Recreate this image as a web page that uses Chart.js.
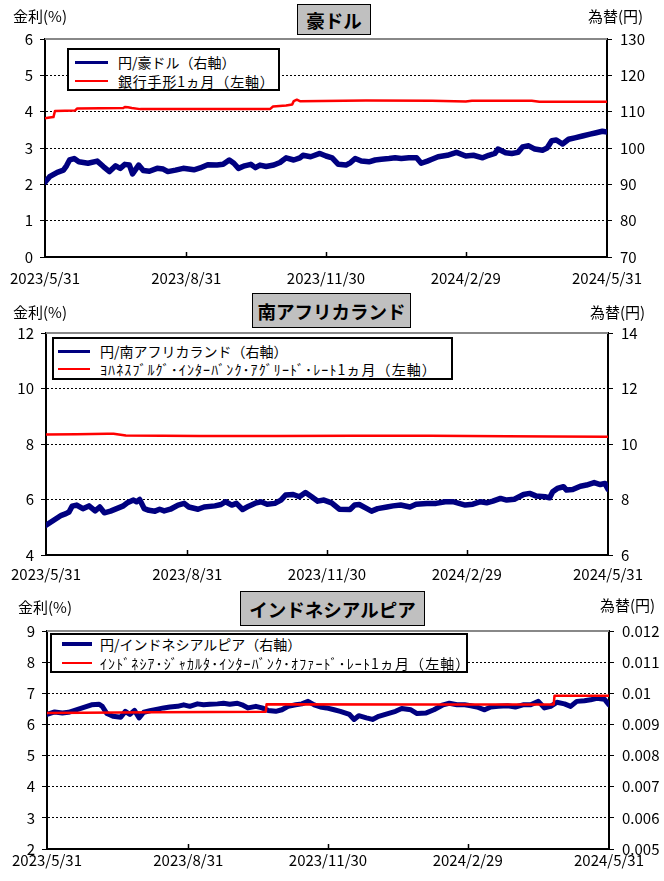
<!DOCTYPE html>
<html>
<head>
<meta charset="utf-8">
<script src="https://cdn.jsdelivr.net/npm/chart.js@4/dist/chart.umd.min.js"></script>
<style>
    body { margin: 0; background: #fff; }
    #page { position: relative; width: 664px; height: 881px; font-family: "Noto Sans CJK JP", sans-serif; color: #000; }
    canvas { position: absolute; left: 0; }
    .title { position: absolute; background: #c0c0c0; border: 1px solid #000; font-weight: bold; font-size: 18.5px;
             display: flex; align-items: center; justify-content: center; box-sizing: border-box; }
    .axis-label { position: absolute; font-size: 15px; line-height: 1; white-space: nowrap; }
    .legend { position: absolute; background: #fff; border: 2px solid #000; box-sizing: border-box; }
    .legend .row { position: absolute; left: 0; right: 0; height: 18px; }
    .legend .mark { position: absolute; top: 50%; }
    .legend .txt { position: absolute; top: 0; line-height: 18px; font-size: 14px; white-space: nowrap; }
    .wide { letter-spacing: 1.1px; }
</style>
</head>
<body>
<div id="page">
    <canvas id="c1" width="664" height="290" style="top:0"></canvas>
    <canvas id="c2" width="664" height="300" style="top:290px"></canvas>
    <canvas id="c3" width="664" height="291" style="top:590px"></canvas>

    <div class="title" style="left:297px;top:4px;width:74px;height:31px">豪ドル</div>
    <div class="title" style="left:252px;top:293px;width:159px;height:35px">南アフリカランド</div>
    <div class="title" style="left:240px;top:591px;width:185px;height:35px">インドネシアルピア</div>

    <div class="axis-label" style="left:13px;top:8px">金利(%)</div>
    <div class="axis-label" style="left:588px;top:8px">為替(円)</div>
    <div class="axis-label" style="left:13px;top:304px">金利(%)</div>
    <div class="axis-label" style="left:590px;top:304px">為替(円)</div>
    <div class="axis-label" style="left:18px;top:599px">金利(%)</div>
    <div class="axis-label" style="left:600px;top:597px">為替(円)</div>

    <div class="legend" style="left:67px;top:48px;width:213px;height:43px">
        <div class="row" style="top:3px"><div class="mark" style="left:6px;width:33px;height:3px;margin-top:-1.5px;background:#000080"></div><div class="txt" style="left:49px">円/豪ドル（右軸）</div></div>
        <div class="row" style="top:22px"><div class="mark" style="left:6px;width:33px;height:2px;margin-top:-1px;background:#ff0000"></div><div class="txt" style="left:49px;letter-spacing:0.8px">銀行手形1ヵ月（左軸）</div></div>
    </div>
    <div class="legend" style="left:52px;top:337px;width:401px;height:43px">
        <div class="row" style="top:3px"><div class="mark" style="left:4px;width:32px;height:3px;margin-top:-1.5px;background:#000080"></div><div class="txt" style="left:46px">円/南アフリカランド（右軸）</div></div>
        <div class="row" style="top:21px"><div class="mark" style="left:4px;width:32px;height:2px;margin-top:-1px;background:#ff0000"></div><div class="txt wide" style="left:46px">ﾖﾊﾈｽﾌﾞﾙｸﾞ･ｲﾝﾀｰﾊﾞﾝｸ･ｱｸﾞﾘｰﾄﾞ･ﾚｰﾄ1ヵ月（左軸）</div></div>
    </div>
    <div class="legend" style="left:50px;top:633px;width:418px;height:40px">
        <div class="row" style="top:0px"><div class="mark" style="left:10px;width:30px;height:4px;margin-top:-2px;background:#000080"></div><div class="txt" style="left:48px">円/インドネシアルピア（右軸）</div></div>
        <div class="row" style="top:19px"><div class="mark" style="left:10px;width:30px;height:2px;margin-top:-1px;background:#ff0000"></div><div class="txt wide" style="left:48px">ｲﾝﾄﾞﾈｼｱ･ｼﾞｬｶﾙﾀ･ｲﾝﾀｰﾊﾞﾝｸ･ｵﾌｧｰﾄﾞ･ﾚｰﾄ1ヵ月（左軸）</div></div>
    </div>
</div>

<script>
// x軸: 2023/5/31 からの経過日数
const xTickDays = [0, 92, 183, 274, 366];
const xTickLabels = ['2023/5/31', '2023/8/31', '2023/11/30', '2024/2/29', '2024/5/31'];

// 豪ドル
const audDays = [0, 3, 8, 12, 14, 16, 19, 22, 25, 28, 34, 38, 42, 46, 49, 52, 55, 57, 61, 64, 68, 73, 77, 80, 85, 90, 97, 101, 106, 112, 116, 120, 123, 126, 130, 134, 137, 140, 144, 149, 153, 157, 162, 166, 168, 173, 179, 183, 187, 191, 196, 199, 202, 206, 211, 215, 219, 224, 228, 232, 237, 242, 245, 249, 252, 256, 262, 268, 274, 279, 285, 289, 293, 295, 300, 304, 308, 311, 315, 319, 324, 327, 330, 333, 337, 341, 345, 350, 355, 359, 363, 366];
const audRate = [90.6, 92.1, 93.3, 93.9, 95.1, 96.7, 97.1, 96.2, 96.0, 95.8, 96.4, 94.9, 93.5, 95.1, 94.4, 95.5, 95.3, 92.9, 95.3, 93.8, 93.6, 94.4, 94.2, 93.5, 93.9, 94.4, 94.0, 94.5, 95.4, 95.3, 95.5, 96.7, 95.8, 94.4, 95.1, 95.5, 94.6, 95.3, 94.9, 95.3, 96.0, 97.3, 96.7, 97.3, 98.0, 97.6, 98.5, 97.8, 97.3, 95.5, 95.3, 96.0, 97.1, 96.4, 96.2, 96.7, 96.9, 97.1, 97.3, 97.1, 97.3, 97.3, 95.8, 96.4, 96.9, 97.6, 98.0, 98.8, 97.8, 98.0, 97.3, 98.0, 98.5, 99.7, 98.7, 98.5, 98.8, 100.3, 100.6, 99.7, 99.4, 100.0, 102.0, 102.2, 101.1, 102.4, 102.8, 103.3, 103.8, 104.2, 104.6, 104.4];
const bbswDays = [0, 3, 5.5, 6.5, 19.5, 21, 51, 52, 54, 56.5, 62, 146.5, 148.5, 157, 161, 162, 164, 166, 209, 252, 274, 278, 317, 322, 366];
const bbswRate = [3.82, 3.84, 3.85, 4.02, 4.03, 4.09, 4.10, 4.13, 4.12, 4.10, 4.07, 4.07, 4.14, 4.17, 4.20, 4.29, 4.33, 4.29, 4.31, 4.30, 4.28, 4.30, 4.30, 4.27, 4.27];
const audLeftTicks = [0, 1, 2, 3, 4, 5, 6];
const audRightTicks = [70, 80, 90, 100, 110, 120, 130];

// 南アフリカランド
const zarDays = [0, 5, 10, 13, 15, 17, 20, 24, 28, 32, 35, 38, 42, 46, 50, 53, 57, 59, 61, 64, 67, 71, 74, 77, 81, 86, 90, 93, 99, 103, 110, 114, 117, 121, 124, 128, 132, 137, 140, 144, 149, 153, 156, 161, 165, 169, 173, 177, 181, 186, 191, 198, 201, 204, 209, 212, 216, 222, 226, 231, 237, 241, 248, 254, 260, 265, 273, 278, 283, 287, 291, 296, 300, 305, 311, 315, 319, 325, 328, 330, 333, 337, 339, 343, 348, 352, 357, 361, 364, 366];
const zarRate = [7.07, 7.25, 7.43, 7.49, 7.55, 7.76, 7.80, 7.67, 7.77, 7.59, 7.73, 7.52, 7.58, 7.67, 7.76, 7.88, 7.98, 7.92, 8.00, 7.67, 7.61, 7.58, 7.65, 7.59, 7.65, 7.80, 7.86, 7.73, 7.65, 7.73, 7.77, 7.82, 7.92, 7.80, 7.86, 7.64, 7.76, 7.88, 7.92, 7.83, 7.86, 7.98, 8.16, 8.18, 8.10, 8.25, 8.10, 7.94, 7.98, 7.88, 7.65, 7.64, 7.80, 7.82, 7.67, 7.58, 7.67, 7.73, 7.77, 7.80, 7.73, 7.83, 7.86, 7.86, 7.92, 7.92, 7.80, 7.83, 7.92, 7.88, 7.94, 8.04, 7.98, 8.01, 8.18, 8.22, 8.13, 8.10, 8.06, 8.28, 8.40, 8.46, 8.34, 8.36, 8.48, 8.52, 8.61, 8.54, 8.58, 8.37];
const jibarDays = [0, 20, 40, 44, 52, 100, 150, 200, 250, 300, 330, 366];
const jibarRate = [8.34, 8.35, 8.37, 8.37, 8.31, 8.29, 8.29, 8.30, 8.30, 8.28, 8.27, 8.26];
const zarLeftTicks = [4, 6, 8, 10, 12];
const zarRightTicks = [6, 8, 10, 12, 14];

// インドネシアルピア
const idrDays = [0, 5, 10, 14, 18, 23, 26, 29, 34, 36, 39, 43, 48, 51, 54, 57, 60, 63, 67, 72, 76, 80, 85, 89, 93, 98, 102, 106, 111, 115, 119, 124, 127, 131, 136, 140, 144, 149, 153, 157, 162, 166, 170, 174, 178, 182, 187, 191, 197, 200, 203, 208, 212, 216, 222, 227, 231, 237, 241, 247, 252, 258, 262, 267, 272, 276, 280, 285, 289, 294, 300, 305, 310, 315, 320, 324, 328, 332, 337, 341, 345, 350, 354, 358, 363, 366];
const idrRate = [0.00932, 0.00940, 0.00937, 0.00939, 0.00945, 0.00953, 0.00958, 0.00963, 0.00965, 0.00958, 0.00935, 0.00926, 0.00923, 0.00942, 0.00932, 0.00945, 0.00921, 0.00939, 0.00944, 0.00949, 0.00953, 0.00956, 0.00958, 0.00963, 0.00958, 0.00966, 0.00963, 0.00965, 0.00966, 0.00968, 0.00965, 0.00968, 0.00963, 0.00953, 0.00958, 0.00953, 0.00945, 0.00942, 0.00947, 0.00958, 0.00963, 0.00966, 0.00974, 0.00963, 0.00956, 0.00953, 0.00947, 0.00942, 0.00932, 0.00916, 0.00928, 0.00921, 0.00916, 0.00926, 0.00935, 0.00942, 0.00951, 0.00947, 0.00935, 0.00937, 0.00947, 0.00963, 0.00968, 0.00963, 0.00963, 0.00960, 0.00956, 0.00947, 0.00956, 0.00958, 0.00960, 0.00956, 0.00963, 0.00963, 0.00974, 0.00953, 0.00958, 0.00971, 0.00966, 0.00958, 0.00974, 0.00976, 0.00979, 0.00984, 0.00981, 0.00963];
const jiborDays = [0, 70, 142.5, 143, 250, 330, 330.5, 366];
const jiborRate = [6.37, 6.39, 6.41, 6.65, 6.64, 6.64, 6.92, 6.92];
const idrLeftTicks = [2, 3, 4, 5, 6, 7, 8, 9];
const idrRightTicks = [0.005, 0.006, 0.007, 0.008, 0.009, 0.01, 0.011, 0.012];

const tickFont = { family: '"Noto Sans CJK JP", sans-serif', size: 15 };

function toPoints(days, values) {
    return days.map((d, i) => ({ x: d, y: values[i] }));
}

// 枠線上端とx軸の内向き目盛
const framePlugin = {
    id: 'frame',
    afterDraw(chart) {
        const { ctx, chartArea: a, scales } = chart;
        ctx.save();
        ctx.strokeStyle = '#888';
        ctx.lineWidth = 2;
        ctx.beginPath();
        ctx.moveTo(a.left, a.top);
        ctx.lineTo(a.right, a.top);
        ctx.stroke();
        ctx.strokeStyle = '#000';
        ctx.lineWidth = 1.5;
        xTickDays.slice(1, -1).forEach(d => {
            const px = Math.round(scales.x.getPixelForValue(d)) + 0.5;
            ctx.beginPath();
            ctx.moveTo(px, a.bottom);
            ctx.lineTo(px, a.bottom - 5);
            ctx.stroke();
        });
        ctx.restore();
    }
};

function createChart(id, opt) {
    const canvas = document.getElementById(id);
    const W = canvas.width, H = canvas.height;
    const leftTicks = opt.leftTicks, rightTicks = opt.rightTicks;
    const edge = v => v === leftTicks[0] || v === leftTicks[leftTicks.length - 1];
    return new Chart(canvas.getContext('2d'), {
        type: 'line',
        data: {
            datasets: [
                {
                    label: 'rate',
                    data: toPoints(opt.rateDays, opt.rateValues),
                    borderColor: '#ff0000',
                    borderWidth: 2.5,
                    yAxisID: 'y',
                    order: 0
                },
                {
                    label: 'fx',
                    data: toPoints(opt.fxDays, opt.fxValues),
                    borderColor: '#000080',
                    borderWidth: opt.fxWidth,
                    yAxisID: 'y1',
                    order: 1
                }
            ]
        },
        options: {
            responsive: false,
            animation: false,
            devicePixelRatio: 1,
            elements: {
                point: { radius: 0 },
                line: { tension: 0, borderJoinStyle: 'round', borderCapStyle: 'round' }
            },
            layout: { padding: { top: opt.top, left: 0, right: 0, bottom: 0 } },
            plugins: { legend: { display: false }, tooltip: { enabled: false } },
            scales: {
                x: {
                    type: 'linear',
                    min: 0,
                    max: 366,
                    grid: { display: false },
                    border: { display: true, color: '#000', width: 2 },
                    afterBuildTicks: s => { s.ticks = xTickDays.map(v => ({ value: v })); },
                    afterFit: s => { s.height = H - opt.bottom; },
                    ticks: {
                        autoSkip: false,
                        maxRotation: 0,
                        padding: opt.xPad,
                        color: '#000',
                        font: tickFont,
                        callback: v => xTickLabels[xTickDays.indexOf(v)]
                    }
                },
                y: {
                    position: 'left',
                    min: leftTicks[0],
                    max: leftTicks[leftTicks.length - 1],
                    afterBuildTicks: s => { s.ticks = leftTicks.map(v => ({ value: v })); },
                    afterFit: s => { s.width = opt.left; },
                    grid: {
                        color: c => (c.tick && edge(c.tick.value)) ? 'rgba(0,0,0,0)' : '#000',
                        tickColor: '#000',
                        tickLength: 5,
                        lineWidth: 1
                    },
                    border: { display: true, color: '#000', width: 2, dash: [2, 2] },
                    ticks: { padding: 7, color: '#000', font: tickFont, callback: v => String(v) }
                },
                y1: {
                    position: 'right',
                    min: rightTicks[0],
                    max: rightTicks[rightTicks.length - 1],
                    afterBuildTicks: s => { s.ticks = rightTicks.map(v => ({ value: v })); },
                    afterFit: s => { s.width = W - opt.right; },
                    grid: { drawOnChartArea: false, color: '#000', tickLength: 5 },
                    border: { display: true, color: '#000', width: 2 },
                    ticks: { padding: 8, color: '#000', font: tickFont, callback: v => String(v) }
                }
            }
        },
        plugins: [framePlugin]
    });
}

function init() {
    createChart('c1', {
        rateDays: bbswDays, rateValues: bbswRate, fxDays: audDays, fxValues: audRate, fxWidth: 5.5,
        leftTicks: audLeftTicks, rightTicks: audRightTicks,
        top: 39, bottom: 257, left: 45, right: 607, xPad: 4
    });
    createChart('c2', {
        rateDays: jibarDays, rateValues: jibarRate, fxDays: zarDays, fxValues: zarRate, fxWidth: 5.5,
        leftTicks: zarLeftTicks, rightTicks: zarRightTicks,
        top: 43, bottom: 265, left: 46, right: 608, xPad: 2
    });
    createChart('c3', {
        rateDays: jiborDays, rateValues: jiborRate, fxDays: idrDays, fxValues: idrRate, fxWidth: 5,
        leftTicks: idrLeftTicks, rightTicks: idrRightTicks,
        top: 41, bottom: 259, left: 47, right: 609, xPad: -6
    });
}

document.addEventListener('DOMContentLoaded', init);
</script>
</body>
</html>
